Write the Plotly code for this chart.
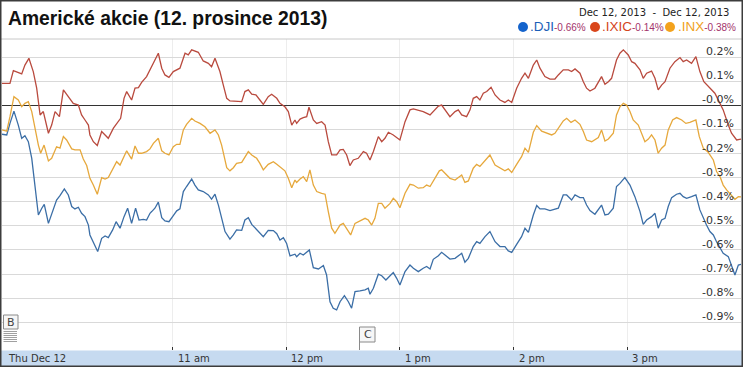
import plotly.graph_objects as go
from datetime import datetime, timedelta

# ---------------- data (minutes after 9:30 open, % change) ----------------
ixic_min = [0.0, 4.2, 6.0, 8.6, 10.4, 12.1, 14.2, 16.5, 18.3, 20.1, 21.8, 24.5, 26.2, 28.0, 30.3, 32.4, 35.0, 37.6, 40.3, 42.0,
            43.8, 45.6, 46.4, 48.2, 50.3, 52.6, 54.4, 56.1, 58.8, 61.4, 62.6, 64.4, 65.8, 68.4, 70.2, 72.0, 73.7, 76.3, 78.1,
            79.9, 82.5, 84.3, 86.0, 88.1, 90.4, 93.9, 96.6, 98.3, 100.1, 103.6, 106.2, 108.9, 110.6, 112.4, 115.0, 116.8, 118.6, 120.3, 123.8,
            126.5, 128.2, 130.0, 131.8, 134.0, 136.1, 137.9, 140.5, 142.3, 145.0, 146.7, 149.3, 151.1, 152.9, 154.6,
            155.5, 157.3, 159.0, 160.8, 162.0, 164.3, 166.1, 168.7, 170.5, 172.2, 174.0, 176.6, 178.4, 180.1, 181.9, 183.6, 185.4, 188.0, 190.7, 192.4,
            194.2, 196.0, 198.6, 200.4, 202.1, 203.9, 206.5, 210.0, 212.7, 215.3, 217.1, 219.7, 222.3, 225.9, 227.6, 230.3,
            232.0, 233.8, 236.4, 239.1, 240.8, 242.6, 245.2, 247.0, 248.7, 250.5, 252.2, 254.0, 255.8, 258.1, 260.2, 262.8, 265.4, 267.2, 269.0, 271.6,
            274.2, 276.0, 277.8, 280.4, 282.2, 283.9, 286.5, 289.2, 291.8, 293.6, 296.2, 298.9, 300.6, 302.4, 305.0, 306.8,
            308.5, 310.3, 312.9, 316.4, 318.2, 320.0, 321.7, 324.3, 326.1, 327.9, 330.5, 332.3, 334.0, 336.7, 338.4, 340.2, 342.8, 344.6, 346.3, 348.1,
            349.9, 352.5, 355.1, 357.8, 359.5, 361.3, 363.9, 366.2, 368.3, 370.4, 373.6, 376.2, 378.9, 380.6, 383.3, 385.0, 387.7, 390.0]
ixic_pct = [0.091, 0.091, 0.144, 0.137, 0.130, 0.167, 0.195, 0.140, 0.071, -0.040, -0.026, -0.116, -0.082, -0.026, -0.047, 0.064, 0.036, 0.008, 0.001, -0.040,
            -0.061, -0.082, -0.123, -0.151, -0.167, -0.109, -0.123, -0.137, -0.095, -0.068, -0.054, 0.029, 0.057, 0.022, 0.071, 0.073, 0.095, 0.119, 0.147,
            0.174, 0.216, 0.154, 0.126, 0.116, 0.140, 0.154, 0.216, 0.209, 0.230, 0.220, 0.184, 0.174, 0.160, 0.195, 0.140, 0.084, 0.029, 0.018, 0.015,
            0.015, 0.057, 0.064, 0.046, 0.043, 0.022, 0.004, 0.036, 0.046, 0.029, 0.008, -0.006, -0.026, -0.082, -0.061,
            -0.075, -0.057, -0.051, -0.047, -0.008, -0.061, -0.075, -0.068, -0.082, -0.151, -0.206, -0.206, -0.185, -0.183, -0.206, -0.250, -0.227, -0.220, -0.192, -0.199,
            -0.227, -0.192, -0.130, -0.151, -0.137, -0.112, -0.123, -0.144, -0.068, -0.019, -0.015, -0.019, -0.026, -0.040, -0.024, -0.003,
            0.001, -0.019, -0.047, -0.026, -0.019, -0.040, -0.047, -0.019, 0.029, 0.036, 0.022, 0.050, 0.057, 0.075, 0.043, 0.022, 0.012, 0.022, 0.012, 0.071,
            0.112, 0.133, 0.112, 0.167, 0.188, 0.154, 0.119, 0.109, 0.109, 0.126, 0.147, 0.147, 0.140, 0.151, 0.133, 0.098,
            0.071, 0.059, 0.071, 0.119, 0.087, 0.098, 0.112, 0.188, 0.216, 0.230, 0.209, 0.181, 0.174, 0.147, 0.112, 0.133, 0.142, 0.112, 0.064, 0.084,
            0.098, 0.154, 0.181, 0.198, 0.181, 0.188, 0.174, 0.202, 0.140, 0.098, 0.071, 0.050, 0.008, -0.019, -0.082, -0.116, -0.144, -0.140]

dji_min = [0.0, 2.5, 4.2, 6.3, 8.6, 10.4, 12.1, 13.9, 15.7, 17.4, 19.2, 21.0, 22.3, 24.5, 27.1, 28.8, 30.6, 32.9, 35.0, 36.8,
           38.5, 40.3, 42.0, 43.8, 45.6, 46.4, 48.2, 50.5, 52.6, 54.4, 56.1, 58.4, 60.2, 62.3, 64.4, 66.3, 68.4, 70.5, 72.3, 74.6, 76.3, 78.1,
           79.0, 80.7, 82.5, 84.3, 86.0, 88.1, 90.4, 92.2, 93.9, 95.7, 97.4, 100.1, 101.8, 103.6, 106.2, 108.9, 110.6, 112.4, 114.2, 115.9,
           117.7, 120.3, 122.1, 123.8, 126.5, 128.2, 130.0, 131.8, 134.0, 136.1, 137.9, 140.5, 143.2, 145.0, 146.7, 148.5, 150.2, 152.0, 154.6,
           155.5, 157.3, 159.0, 160.8, 162.2, 164.3, 167.0, 169.6, 171.3, 173.1, 174.8, 176.6, 178.4, 180.7, 182.8, 184.5, 186.3, 188.9, 191.6, 193.3,
           194.2, 196.0, 198.6, 200.4, 202.6, 204.8, 206.5, 208.3, 210.0, 212.7, 215.3, 217.1, 219.7, 222.3, 224.1, 225.9, 227.6, 230.3,
           232.0, 233.8, 236.4, 239.1, 241.7, 242.6, 244.3, 246.1, 248.7, 250.5, 252.2, 254.9, 257.5, 260.2, 262.8, 265.4, 267.2, 269.0, 271.6, 274.2,
           276.0, 277.8, 280.4, 282.2, 283.9, 286.5, 289.2, 291.8, 293.6, 296.2, 298.0, 300.6, 302.4, 305.0,
           306.8, 308.5, 310.3, 312.9, 314.7, 316.4, 318.2, 320.0, 322.6, 324.3, 326.1, 328.7, 331.4, 334.0, 336.7, 338.4, 340.2, 342.8, 344.6, 346.3,
           348.1, 349.9, 351.6, 353.4, 356.0, 357.8, 359.5, 361.3, 363.9, 366.2, 368.3, 370.1, 371.8, 373.6, 375.4, 377.1, 378.9, 380.6, 383.3, 385.0,
           386.8, 388.6, 390.0]
dji_pct = [-0.120, -0.123, -0.075, -0.024, -0.082, -0.137, -0.126, -0.151, -0.220, -0.331, -0.455, -0.427, -0.411, -0.490, -0.427, -0.393, -0.375, -0.347, -0.372, -0.420,
           -0.430, -0.423, -0.448, -0.462, -0.497, -0.538, -0.568, -0.607, -0.552, -0.542, -0.549, -0.517, -0.483, -0.510, -0.462, -0.427, -0.490, -0.427, -0.476, -0.473, -0.476, -0.448,
           -0.441, -0.427, -0.402, -0.466, -0.480, -0.483, -0.458, -0.438, -0.430, -0.358, -0.337, -0.306, -0.331, -0.351, -0.358, -0.372, -0.389, -0.369, -0.414, -0.469,
           -0.524, -0.555, -0.538, -0.517, -0.519, -0.476, -0.466, -0.494, -0.513, -0.527, -0.545, -0.519, -0.520, -0.533, -0.559, -0.549, -0.573, -0.625, -0.618,
           -0.628, -0.614, -0.621, -0.607, -0.600, -0.674, -0.679, -0.665, -0.704, -0.815, -0.842, -0.849, -0.815, -0.790, -0.815, -0.842, -0.773, -0.770, -0.766, -0.759,
           -0.784, -0.759, -0.701, -0.707, -0.725, -0.707, -0.694, -0.718, -0.746, -0.690, -0.663, -0.676, -0.690, -0.676, -0.669, -0.679, -0.639, -0.624,
           -0.610, -0.621, -0.638, -0.635, -0.621, -0.614, -0.651, -0.635, -0.586, -0.566, -0.573, -0.545, -0.524, -0.566, -0.586, -0.586, -0.604, -0.610, -0.577, -0.545,
           -0.510, -0.527, -0.455, -0.416, -0.430, -0.430, -0.437, -0.430, -0.427, -0.372, -0.372, -0.393, -0.372, -0.383,
           -0.383, -0.414, -0.437, -0.452, -0.434, -0.414, -0.455, -0.452, -0.427, -0.337, -0.324, -0.300, -0.331, -0.379, -0.441, -0.494, -0.476, -0.462, -0.448, -0.510,
           -0.476, -0.469, -0.420, -0.383, -0.369, -0.365, -0.379, -0.386, -0.379, -0.372, -0.434, -0.469, -0.497, -0.524, -0.538, -0.566, -0.593, -0.614, -0.628, -0.665,
           -0.704, -0.663, -0.660]

inx_min = [0.0, 2.5, 4.2, 6.3, 8.6, 10.4, 12.1, 13.9, 15.7, 17.4, 19.2, 20.4, 22.2, 24.5, 26.2, 28.8, 30.6, 32.4, 34.1, 36.8,
           38.5, 41.2, 42.9, 44.7, 46.4, 48.2, 50.3, 52.6, 54.4, 56.1, 57.9, 60.5, 62.3, 64.0, 65.8, 68.4, 70.2, 72.0, 73.7, 76.3, 78.1,
           79.9, 82.5, 84.3, 86.0, 88.1, 90.4, 92.2, 93.9, 95.7, 97.4, 100.1, 101.8, 104.5, 107.1, 109.8, 112.4, 114.2, 115.9, 118.6, 120.3,
           122.1, 123.8, 126.5, 130.0, 131.8, 134.4, 136.1, 137.9, 140.5, 143.2, 145.0, 147.6, 149.3, 151.1, 152.9, 154.6,
           155.5, 157.3, 159.0, 160.8, 162.5, 164.3, 166.1, 168.7, 170.5, 172.2, 174.0, 175.7, 178.4, 180.1, 181.9, 184.0, 186.3, 188.9, 191.6, 193.3,
           195.1, 196.8, 198.6, 200.4, 202.1, 204.8, 206.5, 208.3, 210.0, 212.7, 215.3, 217.1, 219.7, 222.3, 224.1, 225.9, 228.5, 230.8,
           232.0, 233.8, 236.4, 239.1, 241.7, 242.6, 244.3, 246.1, 248.7, 250.5, 252.2, 254.9, 257.5, 260.2, 262.8, 265.4, 267.2, 269.0, 271.6, 274.2,
           276.0, 277.8, 280.4, 282.2, 284.8, 287.4, 290.1, 291.8, 293.9, 296.2, 298.0, 300.3, 302.4, 305.0,
           306.8, 308.5, 311.2, 312.9, 314.7, 316.4, 318.2, 320.0, 322.6, 324.3, 326.1, 327.9, 329.6, 331.4, 333.1, 335.8, 337.5, 339.3, 341.1, 342.8,
           344.6, 346.3, 348.1, 349.9, 351.6, 353.9, 356.0, 358.7, 360.9, 363.0, 366.2, 368.0, 370.1, 372.7, 375.4, 377.1, 378.9, 380.6, 382.4, 385.0,
           386.8, 388.6, 390.0]
inx_pct = [-0.102, -0.107, -0.047, 0.036, 0.022, -0.006, 0.008, 0.015, -0.026, -0.102, -0.165, -0.199, -0.165, -0.231, -0.220, -0.172, -0.178, -0.130, -0.144, -0.181,
           -0.185, -0.185, -0.223, -0.250, -0.303, -0.331, -0.369, -0.300, -0.306, -0.300, -0.272, -0.234, -0.248, -0.220, -0.189, -0.223, -0.169, -0.199, -0.199, -0.192, -0.181,
           -0.158, -0.137, -0.189, -0.199, -0.206, -0.172, -0.162, -0.162, -0.102, -0.079, -0.054, -0.065, -0.075, -0.089, -0.116, -0.102, -0.123, -0.165, -0.259, -0.272,
           -0.259, -0.241, -0.237, -0.192, -0.206, -0.220, -0.241, -0.268, -0.245, -0.234, -0.245, -0.261, -0.272, -0.303, -0.342, -0.310,
           -0.320, -0.306, -0.296, -0.317, -0.268, -0.331, -0.358, -0.365, -0.369, -0.441, -0.510, -0.531, -0.497, -0.490, -0.510, -0.538, -0.490, -0.479, -0.469, -0.476,
           -0.497, -0.469, -0.407, -0.407, -0.427, -0.407, -0.386, -0.400, -0.425, -0.365, -0.328, -0.331, -0.344, -0.342, -0.331, -0.337, -0.303, -0.272,
           -0.268, -0.282, -0.303, -0.310, -0.296, -0.289, -0.320, -0.314, -0.261, -0.245, -0.254, -0.227, -0.206, -0.248, -0.261, -0.272, -0.264, -0.279, -0.245, -0.213,
           -0.178, -0.195, -0.112, -0.084, -0.107, -0.116, -0.123, -0.116, -0.093, -0.065, -0.054, -0.071, -0.061, -0.079,
           -0.109, -0.144, -0.151, -0.144, -0.134, -0.102, -0.148, -0.140, -0.116, -0.040, -0.006, 0.008, 0.001, -0.026, -0.061, -0.082, -0.116, -0.151, -0.140, -0.123,
           -0.144, -0.199, -0.178, -0.165, -0.102, -0.061, -0.051, -0.061, -0.075, -0.071, -0.061, -0.130, -0.178, -0.195, -0.227, -0.275, -0.296, -0.331, -0.351, -0.372,
           -0.390, -0.379, -0.380]

series_names = [".DJI", ".IXIC", ".INX"]
series_change = ["-0.66%", "-0.14%", "-0.38%"]
line_colors = ["#3b6ea6", "#b94a3e", "#e6a83c"]
dot_colors = ["#1463cc", "#d9461b", "#f3a21c"]
text_colors = ["#1b5fb8", "#d4451c", "#f0a21c"]

y_tick_vals = [0.2, 0.1, 0.0, -0.1, -0.2, -0.3, -0.4, -0.5, -0.6, -0.7, -0.8, -0.9]
y_tick_text = ["0.2%", "0.1%", "-0.0%", "-0.1%", "-0.2%", "-0.3%", "-0.4%", "-0.5%", "-0.6%", "-0.7%", "-0.8%", "-0.9%"]
x_tick_times = ["09:30", "11:00", "12:00", "13:00", "14:00", "15:00"]
x_tick_labels = ["Thu Dec 12", "11 am", "12 pm", "1 pm", "2 pm", "3 pm"]

title_text = "Americké akcie (12. prosince 2013)"
range_text = "Dec 12, 2013  -  Dec 12, 2013"

# ---------------- figure ----------------
W, H = 743, 367
base = datetime(2013, 12, 12, 9, 30)
def tm(m):
    return base + timedelta(minutes=m)
def hm(s):
    h, m = s.split(":")
    return datetime(2013, 12, 12, int(h), int(m))

fig = go.Figure()
for mins, vals, name, col in [(dji_min, dji_pct, series_names[0], line_colors[0]),
                              (ixic_min, ixic_pct, series_names[1], line_colors[1]),
                              (inx_min, inx_pct, series_names[2], line_colors[2])]:
    assert len(mins) == len(vals), name
    fig.add_trace(go.Scatter(x=[tm(m) for m in mins], y=vals, mode="lines", name=name,
                             line=dict(color=col, width=1.3), hoverinfo="skip"))

def px(x):
    return x / W
def py(y):
    return 1 - y / H

plot_top, plot_bot = 39, 350
shapes = []
annotations = []

# bottom time band
shapes.append(dict(type="rect", xref="paper", yref="paper", x0=0, x1=1, y0=0, y1=py(plot_bot + 0.5),
                   fillcolor="#c6daf0", line=dict(width=0), layer="below"))
# separator line under title
shapes.append(dict(type="line", xref="paper", yref="paper", x0=0, x1=1, y0=py(plot_top), y1=py(plot_top),
                   line=dict(color="#c8c8c8", width=1)))
# outer frame
shapes.append(dict(type="rect", xref="paper", yref="paper", x0=0, x1=1, y0=0, y1=1,
                   line=dict(color="#3c3c3c", width=3)))

# legend dots + labels
dot_x = [523, 595, 670]
lab_x = [528, 600, 676]
for i in range(3):
    r = 5
    shapes.append(dict(type="circle", xref="paper", yref="paper",
                       x0=px(dot_x[i] - r), x1=px(dot_x[i] + r), y0=py(27 + r), y1=py(27 - r),
                       fillcolor=dot_colors[i], line=dict(width=0)))
    annotations.append(dict(xref="paper", yref="paper", x=px(lab_x[i]), y=py(27), xanchor="left", yanchor="middle",
                            showarrow=False,
                            text=f"<span style='font-size:13.5px;color:{text_colors[i]}'>{series_names[i]}</span>"
                                 f"<span style='font-size:10px;color:#a3336b'>{series_change[i]}</span>",
                            font=dict(family="Arial, Liberation Sans", size=13.5)))

# title and range text
annotations.append(dict(xref="paper", yref="paper", x=px(6), y=py(19), xanchor="left", yanchor="middle",
                        showarrow=False, text=f"<b>{title_text}</b>",
                        font=dict(family="Arial, Liberation Sans", size=19.3, color="#111111")))
annotations.append(dict(xref="paper", yref="paper", x=px(731), y=py(12), xanchor="right", yanchor="middle",
                        showarrow=False, text=range_text.replace("  ", "&nbsp;&nbsp;"),
                        font=dict(family="DejaVu Sans", size=10, color="#222222")))

# y tick labels (inside, right, sitting just above their grid lines)
for v, t in zip(y_tick_vals, y_tick_text):
    annotations.append(dict(xref="paper", yref="y", x=px(736), y=v, xanchor="right", yanchor="bottom",
                            yshift=-3, showarrow=False, text=t,
                            font=dict(family="DejaVu Sans", size=11, color="#333333")))

# x tick labels in band
for i, (t, lab) in enumerate(zip(x_tick_times, x_tick_labels)):
    annotations.append(dict(xref="x", yref="paper", x=hm(t), y=py(358.5), xanchor="left", yanchor="middle",
                            xshift=4 if i == 0 else 3, showarrow=False, text=lab,
                            font=dict(family="DejaVu Sans", size=10, color="#333333")))

# news flags B and C
shapes.append(dict(type="rect", xref="paper", yref="paper", x0=px(3.5), x1=px(18), y0=py(329), y1=py(315),
                   fillcolor="#f6f6f6", line=dict(color="#8a8a8a", width=1)))
for k in range(6):
    yy = 331.5 + 2 * k
    shapes.append(dict(type="line", xref="paper", yref="paper", x0=px(3.5), x1=px(17), y0=py(yy), y1=py(yy),
                       line=dict(color="#a0a0a0", width=1)))
annotations.append(dict(xref="paper", yref="paper", x=px(11), y=py(322), xanchor="center", yanchor="middle",
                        showarrow=False, text="B", font=dict(family="DejaVu Sans", size=11, color="#444444")))
shapes.append(dict(type="rect", xref="paper", yref="paper", x0=px(359.5), x1=px(375), y0=py(342), y1=py(327),
                   fillcolor="#f6f6f6", line=dict(color="#8a8a8a", width=1)))
shapes.append(dict(type="line", xref="paper", yref="paper", x0=px(359.5), x1=px(359.5), y0=py(350), y1=py(342),
                   line=dict(color="#8a8a8a", width=1)))
annotations.append(dict(xref="paper", yref="paper", x=px(367.5), y=py(334.5), xanchor="center", yanchor="middle",
                        showarrow=False, text="C", font=dict(family="DejaVu Sans", size=11, color="#444444")))

zero_y = 105.3
step = 24.1
y_top = (zero_y - plot_top) / step * 0.1
y_bot = (zero_y - plot_bot) / step * 0.1

fig.update_layout(
    width=W, height=H, margin=dict(l=0, r=0, t=0, b=0),
    paper_bgcolor="white", plot_bgcolor="white", showlegend=False,
    shapes=shapes, annotations=annotations,
    xaxis=dict(type="date", range=[base, tm(390)], domain=[px(2), px(741)],
               tickvals=[hm(t) for t in x_tick_times], showticklabels=False,
               ticks="inside", ticklen=3, tickcolor="#333333", tickwidth=1,
               showgrid=True, gridcolor="#ededed", gridwidth=1, zeroline=False, showline=False),
    yaxis=dict(range=[y_bot, y_top], domain=[py(plot_bot), py(plot_top)], side="right",
               tickvals=y_tick_vals, showticklabels=False,
               showgrid=True, gridcolor="#d9d9d9", gridwidth=1,
               zeroline=True, zerolinecolor="#333333", zerolinewidth=1, showline=False, ticks=""),
)

fig.write_html("out.html", config={"displayModeBar": False},
               post_script="document.body.style.margin='0';document.body.style.padding='0';document.body.style.overflow='hidden';")
